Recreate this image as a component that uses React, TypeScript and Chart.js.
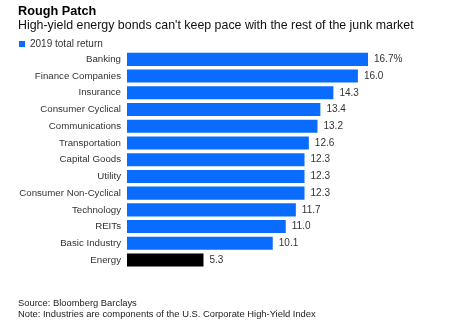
import React, { useEffect, useRef } from "react";
import { Chart, registerables } from "chart.js";

Chart.register(...registerables);

const categories = [
  "Banking",
  "Finance Companies",
  "Insurance",
  "Consumer Cyclical",
  "Communications",
  "Transportation",
  "Capital Goods",
  "Utility",
  "Consumer Non-Cyclical",
  "Technology",
  "REITs",
  "Basic Industry",
  "Energy",
];
const returns2019 = [16.7, 16.0, 14.3, 13.4, 13.2, 12.6, 12.3, 12.3, 12.3, 11.7, 11.0, 10.1, 5.3];
const highlight = "Energy";
const seriesLabel = "2019 total return";
const titleText = "Rough Patch";
const subtitleText = "High-yield energy bonds can't keep pace with the rest of the junk market";
const footerLines = [
  "Source: Bloomberg Barclays",
  "Note: Industries are components of the U.S. Corporate High-Yield Index",
];

const FONT = "'Liberation Sans', Arial, sans-serif";
const BLUE = "#0a6cff";

export default function App() {
  const ref = useRef<HTMLCanvasElement>(null);

  useEffect(() => {
    document.body.style.margin = "0";
    const canvas = ref.current!;
    const valueLabels = {
      id: "valueLabels",
      afterDatasetsDraw(chart: any) {
        const ctx = chart.ctx;
        const meta = chart.getDatasetMeta(0);
        ctx.save();
        ctx.font = `10px ${FONT}`;
        ctx.fillStyle = "#333";
        ctx.textBaseline = "middle";
        ctx.textAlign = "left";
        meta.data.forEach((bar: any, i: number) => {
          const v = returns2019[i];
          const txt = v.toFixed(1) + (i === 0 ? "%" : "");
          ctx.fillText(txt, bar.x + 6, bar.y);
        });
        ctx.restore();
      },
    };
    const footer = {
      id: "footer",
      afterDraw(chart: any) {
        const ctx = chart.ctx;
        ctx.save();
        ctx.font = `9.4px ${FONT}`;
        ctx.fillStyle = "#222";
        ctx.textBaseline = "middle";
        ctx.textAlign = "left";
        ctx.fillText(footerLines[0], 18, 303.5);
        ctx.fillText(footerLines[1], 18, 314);
        ctx.restore();
      },
    };

    const chart = new Chart(canvas, {
      type: "bar",
      data: {
        labels: categories,
        datasets: [
          {
            label: seriesLabel,
            data: returns2019,
            backgroundColor: categories.map((c) => (c === highlight ? "#000" : BLUE)),
            borderWidth: 0,
            categoryPercentage: 1,
            barPercentage: 0.78,
          },
        ],
      },
      options: {
        indexAxis: "y",
        responsive: false,
        animation: false,
        layout: { padding: { left: 18, right: 5.5, top: 0, bottom: 57.6 } },
        scales: {
          x: { display: false, min: 0, max: 22 },
          y: {
            grid: { display: false, drawTicks: false },
            border: { display: false },
            ticks: {
              padding: 6,
              color: "#333",
              font: { family: FONT, size: 9.7 },
            },
            afterFit(scale: any) {
              scale.width = 109;
            },
          },
        },
        plugins: {
          title: {
            display: true,
            text: titleText,
            align: "start",
            color: "#000",
            font: { family: FONT, size: 12.7, weight: "bold", lineHeight: 1 },
            padding: { top: 5, bottom: 0 },
          },
          subtitle: {
            display: true,
            text: subtitleText,
            align: "start",
            color: "#111",
            font: { family: FONT, size: 12.4, lineHeight: 1 },
            padding: { top: 1.6, bottom: 6.3 },
          },
          legend: {
            display: true,
            align: "start",
            maxHeight: 13,
            labels: {
              boxWidth: 6,
              boxHeight: 6,
              padding: 1,
              color: "#333",
              font: { family: FONT, size: 10 },
            },
          },
          tooltip: { enabled: false },
        },
      },
      plugins: [valueLabels, footer],
    });
    return () => chart.destroy();
  }, []);

  return <canvas ref={ref} width={450} height={326} style={{ display: "block" }} />;
}
